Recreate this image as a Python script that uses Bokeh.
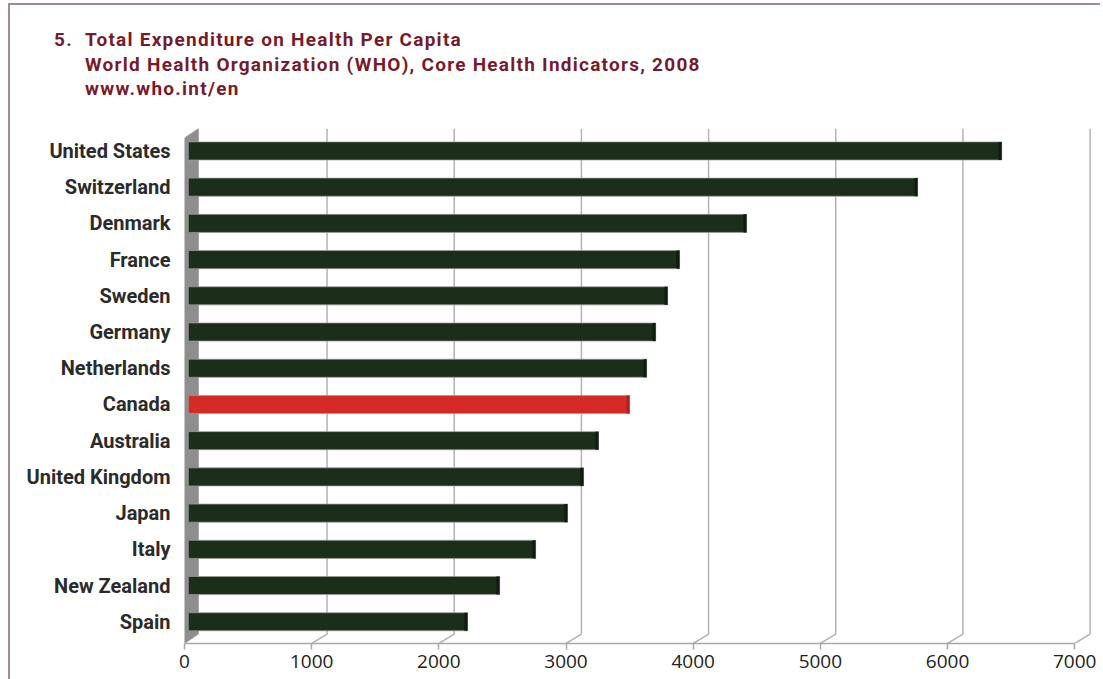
from bokeh.plotting import figure
from bokeh.layouts import column
from bokeh.models import Range1d, FixedTicker, Div, ColumnDataSource
from bokeh.embed import file_html
from bokeh.resources import INLINE

# ---- data (bottom to top) ----
categories = ["Spain", "New Zealand", "Italy", "Japan", "United Kingdom", "Australia",
              "Canada", "Netherlands", "Germany", "Sweden", "France", "Denmark",
              "Switzerland", "United States"]
values = [2226, 2478, 2761, 3012, 3138, 3256, 3500, 3634, 3705, 3799, 3893, 4420, 5765, 6426]
highlight = "Canada"
ticks = [0, 1000, 2000, 3000, 4000, 5000, 6000, 7000]
tick_labels = ["0", "1000", "2000", "3000", "4000", "5000", "6000", "7000"]
title_lines = ["Total Expenditure on Health Per Capita",
               "World Health Organization (WHO), Core Health Indicators, 2008",
               "www.who.int/en"]
title_number = "5."

GREEN = "#1b2e1a"
RED = "#d42b27"
MAROON = "#761b2d"
GRID = "#b4b4b4"
BORDER = "#a58798"

Y0, Y1 = -0.6, 13.62
DX, DY = 121, 0.26  # 3D depth offset

# ---- title block ----
title_html = (
    '<div style="position:relative;width:1090px;height:120px;font-family:Roboto;'
    'font-weight:bold;font-size:19px;line-height:24.5px;letter-spacing:1.25px;color:%s;">'
    '<div style="position:absolute;left:44px;top:23px;">%s</div>'
    '<div style="position:absolute;left:75px;top:23px;white-space:nowrap;">%s</div>'
    '</div>'
) % (MAROON, title_number, "<br>".join(title_lines))
div = Div(text=title_html, width=1090, height=120, margin=(0, 0, 0, 0))

# ---- chart ----
p = figure(width=1090, height=554, x_range=Range1d(0, 7140), y_range=Range1d(Y0, Y1),
           output_backend="svg", toolbar_location=None,
           min_border_left=174, min_border_right=8, min_border_top=3, min_border_bottom=36)
p.margin = (0, 0, 0, 0)
p.outline_line_color = None
p.xgrid.visible = False
p.ygrid.visible = False
p.background_fill_color = "white"
p.border_fill_color = "white"

# back-plane grid lines with slanted feet
gx, gy = [], []
for t in ticks[1:]:
    gx.append([t, t + DX, t + DX])
    gy.append([Y0, Y0 + DY, Y1])
p.multi_line(gx, gy, line_color=GRID, line_width=1.5)

# left wall
p.patch([0, 110, 110, 0], [Y0, Y0 + DY, Y1, Y1 - DY], fill_color="#8e8e8e",
        line_color="#a8a8a8", line_width=1)

# bars
ys = list(range(len(categories)))
colors = [RED if c == highlight else GREEN for c in categories]
dark = ["#b0221f" if c == highlight else "#111c10" for c in categories]
src = ColumnDataSource(dict(y=ys, v=values, c=colors, d=dark,
                            vb=[v - 25 for v in values]))
p.hbar(y="y", left=30, right="v", height=0.5, fill_color="c",
       line_color="#9aa099", line_width=1, line_alpha=0.7, source=src)
p.hbar(y="y", left="vb", right="v", height=0.5, fill_color="d", line_color=None, source=src)

# x axis
ax = p.xaxis[0]
ax.ticker = FixedTicker(ticks=ticks)
ax.major_label_overrides = {t: s for t, s in zip(ticks, tick_labels)}
ax.bounds = (0, 7000)
ax.axis_line_color = "#a9a9a9"
ax.axis_line_width = 1.5
ax.major_tick_line_color = "#a9a9a9"
ax.major_tick_line_width = 1.5
ax.major_tick_out = 6
ax.major_tick_in = 0
ax.minor_tick_line_color = None
ax.major_label_standoff = 5
ax.major_label_text_font = "Open Sans"
ax.major_label_text_font_size = "19px"
ax.major_label_text_color = "#222222"

# y axis
ya = p.yaxis[0]
ya.ticker = FixedTicker(ticks=ys)
ya.major_label_overrides = {i: c for i, c in zip(ys, categories)}
ya.axis_line_color = None
ya.major_tick_line_color = None
ya.minor_tick_line_color = None
ya.major_tick_out = 0
ya.major_tick_in = 0
ya.major_label_standoff = 14
ya.major_label_text_font = "Roboto"
ya.major_label_text_font_style = "bold"
ya.major_label_text_font_size = "20px"
ya.major_label_text_color = "#2b2b2b"

layout = column(div, p, spacing=0)
layout.styles = {"border-left": "2px solid " + BORDER, "border-top": "2px solid " + BORDER,
                 "margin-left": "8px", "margin-top": "3px"}

open("out.html", "w").write(file_html(layout, INLINE))
